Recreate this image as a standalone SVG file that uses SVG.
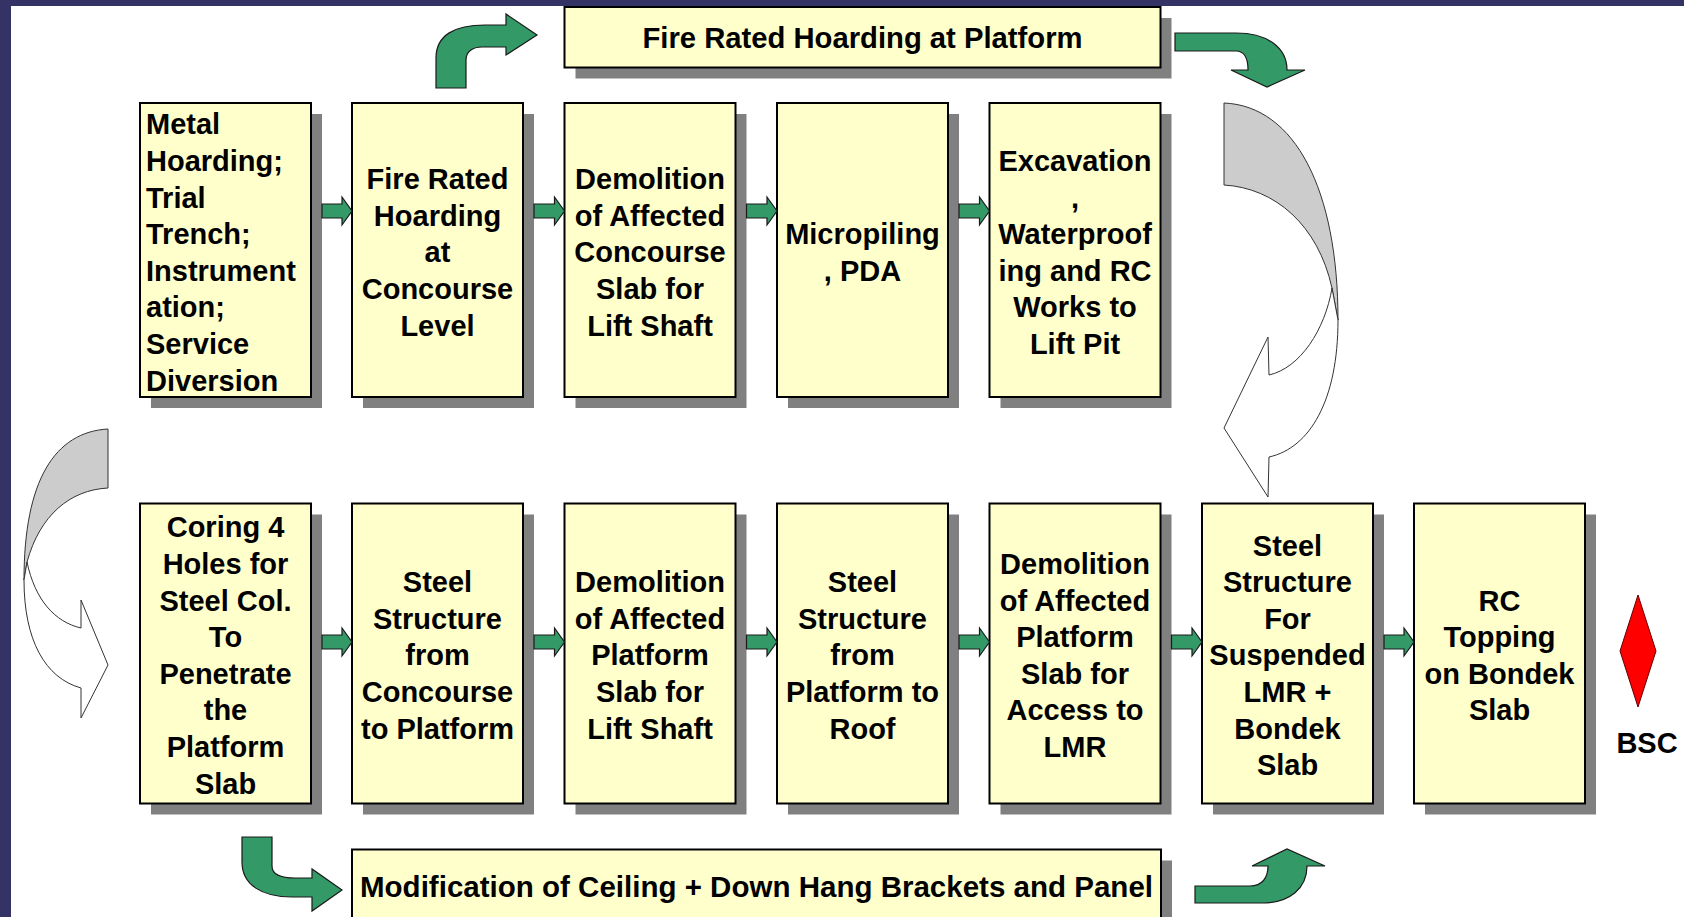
<svg xmlns="http://www.w3.org/2000/svg" width="1684" height="917" viewBox="0 0 1684 917">
<style>
.sh{fill:#808080}
.bx{fill:#FFFFCC;stroke:#000;stroke-width:2}
.t{font-family:"Liberation Sans",Arial,sans-serif;font-weight:bold;font-size:29px;fill:#000;text-anchor:middle}
.tl{text-anchor:start}
.ga{fill:#339966;stroke:#1a1a1a;stroke-width:1.2;stroke-linejoin:miter}
.gr{fill:#CCCCCC;stroke:#333;stroke-width:1}
.wh{fill:#FFFFFF;stroke:#333;stroke-width:1}
</style>
<rect x="0" y="0" width="1684" height="917" fill="#FFFFFF"/>
<rect x="0" y="0" width="11" height="917" fill="#333366"/>
<rect x="0" y="0" width="1684" height="6" fill="#333366"/>

<g id="fire-platform">
<rect class="sh" x="575.5" y="18" width="596" height="60.5"/>
<rect class="bx" x="564.5" y="7" width="596" height="60.5"/>
<text class="t" x="862.5" y="48" textLength="440" lengthAdjust="spacingAndGlyphs">Fire Rated Hoarding at Platform</text>
</g>

<g id="n1">
<rect class="sh" x="151" y="114" width="171" height="294"/>
<rect class="bx" x="140" y="103" width="171" height="294"/>
<text class="t tl"><tspan x="146" y="134.3">Metal</tspan><tspan x="146" y="170.9">Hoarding;</tspan><tspan x="146" y="207.5">Trial</tspan><tspan x="146" y="244.1">Trench;</tspan><tspan x="146" y="280.7">Instrument</tspan><tspan x="146" y="317.3">ation;</tspan><tspan x="146" y="353.9">Service</tspan><tspan x="146" y="390.5">Diversion</tspan></text>
</g>
<g id="n2">
<rect class="sh" x="363" y="114" width="171" height="294"/>
<rect class="bx" x="352" y="103" width="171" height="294"/>
<text class="t"><tspan x="437.5" y="189.2">Fire Rated</tspan><tspan x="437.5" y="225.8">Hoarding</tspan><tspan x="437.5" y="262.4">at</tspan><tspan x="437.5" y="299">Concourse</tspan><tspan x="437.5" y="335.6">Level</tspan></text>
</g>
<g id="n3">
<rect class="sh" x="575.5" y="114" width="171" height="294"/>
<rect class="bx" x="564.5" y="103" width="171" height="294"/>
<text class="t"><tspan x="650" y="189.2">Demolition</tspan><tspan x="650" y="225.8">of Affected</tspan><tspan x="650" y="262.4">Concourse</tspan><tspan x="650" y="299">Slab for</tspan><tspan x="650" y="335.6">Lift Shaft</tspan></text>
</g>
<g id="n4">
<rect class="sh" x="788" y="114" width="171" height="294"/>
<rect class="bx" x="777" y="103" width="171" height="294"/>
<text class="t"><tspan x="862.5" y="244.1">Micropiling</tspan><tspan x="862.5" y="280.7">, PDA</tspan></text>
</g>
<g id="n5">
<rect class="sh" x="1000.5" y="114" width="171" height="294"/>
<rect class="bx" x="989.5" y="103" width="171" height="294"/>
<text class="t"><tspan x="1075" y="170.9">Excavation</tspan><tspan x="1075" y="207.5">,</tspan><tspan x="1075" y="244.1">Waterproof</tspan><tspan x="1075" y="280.7">ing and RC</tspan><tspan x="1075" y="317.3">Works to</tspan><tspan x="1075" y="353.9">Lift Pit</tspan></text>
</g>

<g id="m1">
<rect class="sh" x="151" y="514.5" width="171" height="300"/>
<rect class="bx" x="140" y="503.5" width="171" height="300"/>
<text class="t"><tspan x="225.5" y="537.3">Coring 4</tspan><tspan x="225.5" y="573.9">Holes for</tspan><tspan x="225.5" y="610.5">Steel Col.</tspan><tspan x="225.5" y="647.1">To</tspan><tspan x="225.5" y="683.7">Penetrate</tspan><tspan x="225.5" y="720.3">the</tspan><tspan x="225.5" y="756.9">Platform</tspan><tspan x="225.5" y="793.5">Slab</tspan></text>
</g>
<g id="m2">
<rect class="sh" x="363" y="514.5" width="171" height="300"/>
<rect class="bx" x="352" y="503.5" width="171" height="300"/>
<text class="t"><tspan x="437.5" y="592.2">Steel</tspan><tspan x="437.5" y="628.8">Structure</tspan><tspan x="437.5" y="665.4">from</tspan><tspan x="437.5" y="702">Concourse</tspan><tspan x="437.5" y="738.6">to Platform</tspan></text>
</g>
<g id="m3">
<rect class="sh" x="575.5" y="514.5" width="171" height="300"/>
<rect class="bx" x="564.5" y="503.5" width="171" height="300"/>
<text class="t"><tspan x="650" y="592.2">Demolition</tspan><tspan x="650" y="628.8">of Affected</tspan><tspan x="650" y="665.4">Platform</tspan><tspan x="650" y="702">Slab for</tspan><tspan x="650" y="738.6">Lift Shaft</tspan></text>
</g>
<g id="m4">
<rect class="sh" x="788" y="514.5" width="171" height="300"/>
<rect class="bx" x="777" y="503.5" width="171" height="300"/>
<text class="t"><tspan x="862.5" y="592.2">Steel</tspan><tspan x="862.5" y="628.8">Structure</tspan><tspan x="862.5" y="665.4">from</tspan><tspan x="862.5" y="702">Platform to</tspan><tspan x="862.5" y="738.6">Roof</tspan></text>
</g>
<g id="m5">
<rect class="sh" x="1000.5" y="514.5" width="171" height="300"/>
<rect class="bx" x="989.5" y="503.5" width="171" height="300"/>
<text class="t"><tspan x="1075" y="573.9">Demolition</tspan><tspan x="1075" y="610.5">of Affected</tspan><tspan x="1075" y="647.1">Platform</tspan><tspan x="1075" y="683.7">Slab for</tspan><tspan x="1075" y="720.3">Access to</tspan><tspan x="1075" y="756.9">LMR</tspan></text>
</g>
<g id="m6">
<rect class="sh" x="1213" y="514.5" width="171" height="300"/>
<rect class="bx" x="1202" y="503.5" width="171" height="300"/>
<text class="t"><tspan x="1287.5" y="555.6">Steel</tspan><tspan x="1287.5" y="592.2">Structure</tspan><tspan x="1287.5" y="628.8">For</tspan><tspan x="1287.5" y="665.4">Suspended</tspan><tspan x="1287.5" y="702">LMR +</tspan><tspan x="1287.5" y="738.6">Bondek</tspan><tspan x="1287.5" y="775.2">Slab</tspan></text>
</g>
<g id="m7">
<rect class="sh" x="1425" y="514.5" width="171" height="300"/>
<rect class="bx" x="1414" y="503.5" width="171" height="300"/>
<text class="t"><tspan x="1499.5" y="610.5">RC</tspan><tspan x="1499.5" y="647.1">Topping</tspan><tspan x="1499.5" y="683.7">on Bondek</tspan><tspan x="1499.5" y="720.3">Slab</tspan></text>
</g>

<g id="modification">
<rect class="sh" x="363" y="860.5" width="809" height="80"/>
<rect class="bx" x="352" y="849.5" width="809" height="80"/>
<text class="t tl" x="360" y="896.5" textLength="793" lengthAdjust="spacingAndGlyphs">Modification of Ceiling + Down Hang Brackets and Panel</text>
</g>

<g id="bsc">
<polygon points="1638,595 1656,651 1638,707 1620,651" fill="#FF0000" stroke="#660000" stroke-width="1"/>
<text class="t" x="1647" y="753">BSC</text>
</g>

<g id="connectors">
<path class="ga" d="M322,204 L342,204 L342,197 L352,211 L342,225 L342,218 L322,218 Z"/>
<path class="ga" d="M534,204 L554.5,204 L554.5,197 L564.5,211 L554.5,225 L554.5,218 L534,218 Z"/>
<path class="ga" d="M746.5,204 L767,204 L767,197 L777,211 L767,225 L767,218 L746.5,218 Z"/>
<path class="ga" d="M959,204 L979.5,204 L979.5,197 L989.5,211 L979.5,225 L979.5,218 L959,218 Z"/>

<path class="ga" d="M322,635 L342,635 L342,628 L352,642 L342,656 L342,649 L322,649 Z"/>
<path class="ga" d="M534,635 L554.5,635 L554.5,628 L564.5,642 L554.5,656 L554.5,649 L534,649 Z"/>
<path class="ga" d="M746.5,635 L767,635 L767,628 L777,642 L767,656 L767,649 L746.5,649 Z"/>
<path class="ga" d="M959,635 L979.5,635 L979.5,628 L989.5,642 L979.5,656 L979.5,649 L959,649 Z"/>
<path class="ga" d="M1171.5,635 L1192,635 L1192,628 L1202,642 L1192,656 L1192,649 L1171.5,649 Z"/>
<path class="ga" d="M1384,635 L1404,635 L1404,628 L1414,642 L1404,656 L1404,649 L1384,649 Z"/>

<path class="ga" d="M436,88 L436,58 C436,35 455,25 485,25 L506,25 L506,14 L537,35 L506,55 L506,47 L482,47 C472,47 466,52 466,60 L466,88 Z"/>
<path class="ga" d="M1175,33 L1236,33 C1268,33 1287,48 1287,70 L1305,70 L1267,87 L1231,70 L1248,70 C1248,58 1245,51 1236,51 L1175,51 Z"/>
<path class="ga" d="M242,837 L272,837 L272,866 C272,874 280,878 295,878 L312,878 L312,869 L342,890 L312,911 L312,897 L292,897 C262,897 242,885 242,862 Z"/>
<path class="ga" d="M1195,886 L1250,886 C1262,886 1268,878 1268,866 L1252,866 L1287,849 L1325,866 L1307,866 C1307,888 1290,903 1262,903 L1195,903 Z"/>

<path class="gr" d="M1224,103 C1295,106 1338,190 1338,320 L1332,288 C1318,225 1275,188 1224,185 Z"/>
<path class="wh" d="M1332,288 C1325,330 1300,368 1269,375 L1268,337 L1224,428 L1268,497 L1269,457 C1310,448 1338,400 1338,320 Z"/>
<path class="gr" d="M108,429 C55,432 24,480 24,580 L27,562 C40,515 70,490 108,488 Z"/>
<path class="wh" d="M27,562 C35,600 55,622 81,628 L81,600 L108,665 L81,718 L81,688 C45,678 24,640 24,580 Z"/>
</g>
</svg>
